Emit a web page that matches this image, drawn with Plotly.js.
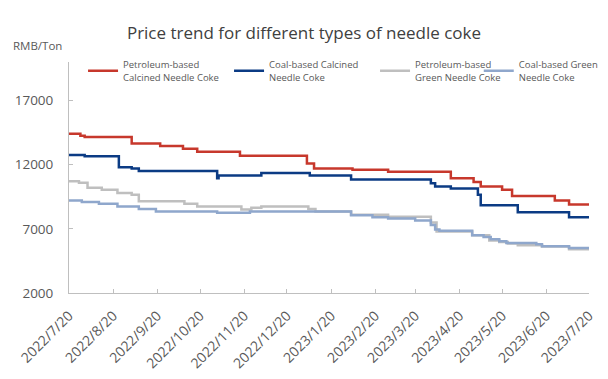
<!DOCTYPE html>
<html>
<head>
<meta charset="utf-8">
<script src="https://cdn.plot.ly/plotly-3.0.1.min.js"></script>
<style>html,body{margin:0;padding:0;background:#fff;}#chart{width:608px;height:379px;}</style>
</head>
<body>
<div id="chart"></div>
<script>
// Petroleum-based Calcined Needle Coke
var petroCalcDates = ["2022-07-20","2022-07-28","2022-07-31","2022-09-02","2022-09-22","2022-10-08","2022-10-18","2022-11-17","2023-01-03","2023-01-08","2023-02-04","2023-03-01","2023-04-14","2023-04-30","2023-05-05","2023-05-20","2023-05-27","2023-06-26","2023-07-06","2023-07-20"];
var petroCalcValues = [14400,14250,14150,13650,13450,13250,13000,12700,12100,11700,11600,11450,10950,10650,10300,10050,9550,9200,8900,8900];

// Coal-based Calcined Needle Coke
var coalCalcDates = ["2022-07-20","2022-07-31","2022-08-24","2022-09-02","2022-09-07","2022-11-01","2022-11-02","2022-12-02","2023-01-05","2023-02-03","2023-03-31","2023-04-03","2023-04-14","2023-05-03","2023-05-05","2023-05-31","2023-07-06","2023-07-20"];
var coalCalcValues = [12750,12650,11800,11700,11500,10950,11150,11350,11150,10850,10550,10300,10150,9650,8830,8300,7900,7900];

// Petroleum-based Green Needle Coke
var petroGreenDates = ["2022-07-20","2022-07-27","2022-08-02","2022-08-12","2022-08-23","2022-09-02","2022-09-07","2022-10-09","2022-10-18","2022-11-18","2022-11-25","2022-12-02","2023-01-04","2023-01-09","2023-02-03","2023-03-01","2023-03-31","2023-04-04","2023-04-29","2023-05-11","2023-05-18","2023-05-24","2023-05-31","2023-06-17","2023-07-06","2023-07-20"];
var petroGreenValues = [10700,10600,10200,10050,9800,9650,9150,8950,8750,8500,8650,8750,8550,8350,8100,7950,7500,6800,6500,6100,5970,5850,5720,5620,5400,5400];

// Coal-based Green Needle Coke
var coalGreenDates = ["2022-07-20","2022-07-29","2022-08-10","2022-08-23","2022-09-07","2022-09-19","2022-11-01","2022-11-24","2023-02-03","2023-02-18","2023-03-01","2023-03-20","2023-03-31","2023-04-03","2023-04-06","2023-04-29","2023-05-07","2023-05-12","2023-05-18","2023-05-23","2023-06-13","2023-06-17","2023-07-06","2023-07-20"];
var coalGreenValues = [9200,9100,8950,8750,8550,8350,8250,8350,8050,7900,7800,7650,7300,6950,6850,6500,6360,6180,6030,5900,5800,5650,5500,5500];

var tickDates = ["2022-07-20","2022-08-20","2022-09-20","2022-10-20","2022-11-20","2022-12-20","2023-01-20","2023-02-20","2023-03-20","2023-04-20","2023-05-20","2023-06-20","2023-07-20"];
var tickLabels = ["2022/7/20","2022/8/20","2022/9/20","2022/10/20","2022/11/20","2022/12/20","2023/1/20","2023/2/20","2023/3/20","2023/4/20","2023/5/20","2023/6/20","2023/7/20"];
var yTicks = [2000,7000,12000,17000];
var yTickLabels = ["2000","7000","12000","17000"];

var seriesNames = ["Petroleum-based<br>Calcined Needle Coke","Coal-based Calcined<br>Needle Coke","Petroleum-based<br>Green Needle Coke","Coal-based Green<br>Needle Coke"];

function tr(d, v, name, color, legend) {
  return {x: d, y: v, name: name, type: 'scatter', mode: 'lines',
    line: {color: color, width: 2.5, shape: 'hv'}, legend: legend, hoverinfo: 'skip'};
}

var data = [
  tr(petroCalcDates, petroCalcValues, seriesNames[0], '#C7382C', 'legend'),
  tr(coalCalcDates, coalCalcValues, seriesNames[1], '#0B3B84', 'legend'),
  tr(petroGreenDates, petroGreenValues, seriesNames[2], '#BFBFBF', 'legend'),
  tr(coalGreenDates, coalGreenValues, seriesNames[3], '#8FA7CC', 'legend2')
];

var font = "'Open Sans', 'Noto Sans', sans-serif";
var legFont = {family: font, size: 9.5, color: '#595959'};

var layout = {
  width: 608, height: 379,
  margin: {l: 69, r: 19, t: 62, b: 86, autoexpand: false},
  paper_bgcolor: '#fff', plot_bgcolor: '#fff',
  title: {text: 'Price trend for different types of needle coke', x: 0.5, xanchor: 'center', y: 0.912, yanchor: 'middle', font: {family: font, size: 17, color: '#404040'}},
  xaxis: {type: 'date', range: ['2022-07-20', '2023-07-20'], tickvals: tickDates, ticktext: tickLabels, tickangle: -45,
    showgrid: false, zeroline: false, showline: true, linecolor: '#BFBFBF', linewidth: 1, automargin: false,
    ticks: 'inside', ticklen: 4, tickcolor: '#BFBFBF', ticklabelstandoff: 8, tickfont: {family: font, size: 14, color: '#595959'}},
  yaxis: {range: [2000, 20000], tickvals: yTicks, ticktext: yTickLabels, showgrid: false, zeroline: false, showline: true, linecolor: '#BFBFBF', linewidth: 1, automargin: false,
    ticks: 'inside', ticklen: 4, tickcolor: '#BFBFBF', ticklabelstandoff: 12, tickfont: {family: font, size: 13.5, color: '#595959'}},
  legend: {orientation: 'h', x: 0.027, xanchor: 'left', y: 1.044, yanchor: 'top', font: legFont, entrywidth: 101, entrywidthmode: 'pixels', bgcolor: 'rgba(0,0,0,0)', valign: 'middle'},
  legend2: {orientation: 'h', x: 0.788, xanchor: 'left', y: 1.044, yanchor: 'top', font: legFont, bgcolor: 'rgba(0,0,0,0)', valign: 'middle'},
  annotations: [{text: 'RMB/Ton', xref: 'paper', yref: 'paper', x: -0.112, xanchor: 'left', y: 1.0705, yanchor: 'middle', showarrow: false, font: {family: font, size: 11.5, color: '#595959'}}],
  showlegend: true
};

Plotly.newPlot('chart', data, layout, {staticPlot: true, displayModeBar: false});
</script>
</body>
</html>
